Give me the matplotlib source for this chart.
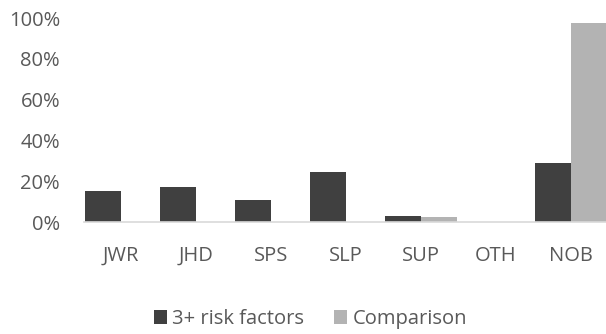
import numpy as np
import matplotlib
matplotlib.use("Agg")
from matplotlib import pyplot as plt
from matplotlib.ticker import PercentFormatter

categories = ["JWR", "JHD", "SPS", "SLP", "SUP", "OTH", "NOB"]
risk_3plus = [15, 17, 11, 24.5, 3, 0, 29]
comparison = [0, 0, 0, 0, 2.5, 0, 97.5]
series_names = ["3+ risk factors", "Comparison"]

plt.rcParams["font.family"] = ["Open Sans", "DejaVu Sans"]
text_color = "#595959"

fig = plt.figure(figsize=(6.06, 3.34), dpi=100)
ax = fig.add_axes([0.138, 0.335, 0.866, 0.611])

x = np.arange(len(categories))
w = 0.48
ax.bar(x - w / 2, risk_3plus, width=w, color="#404040", label=series_names[0])
ax.bar(x + w / 2, comparison, width=w, color="#b3b3b3", label=series_names[1])

ax.set_xlim(-0.5, len(categories) - 0.5)
ax.set_ylim(0, 100)
ax.set_yticks(range(0, 101, 20))
ax.yaxis.set_major_formatter(PercentFormatter(decimals=0))
ax.set_xticks(x)
ax.set_xticklabels(categories)

for s in ["top", "right", "left"]:
    ax.spines[s].set_visible(False)
ax.spines["bottom"].set_color("#d9d9d9")
ax.spines["bottom"].set_linewidth(1.2)
ax.tick_params(axis="both", length=0, colors=text_color, labelsize=14.5)
ax.tick_params(axis="x", pad=17)
ax.tick_params(axis="y", pad=17)

fig.legend(loc="center", bbox_to_anchor=(0.512, 0.045), ncol=2, frameon=False,
           fontsize=14.5, labelcolor=text_color, handlelength=0.65,
           handleheight=0.65, handletextpad=0.25, columnspacing=1.5)

fig.savefig("out.png", dpi=100)
